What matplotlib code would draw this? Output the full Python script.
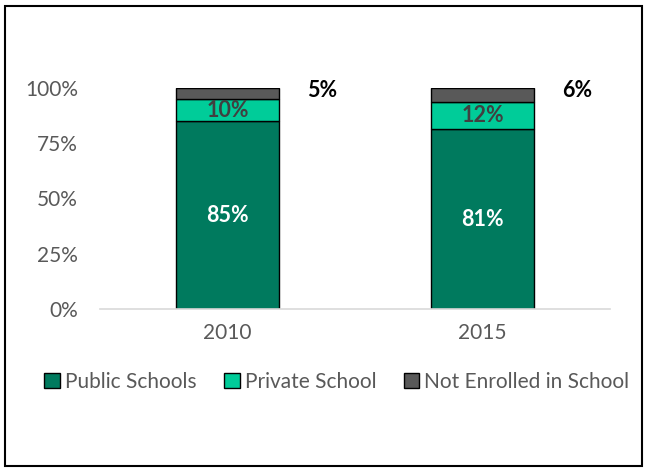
import matplotlib
matplotlib.use("Agg")
import matplotlib.pyplot as plt
from matplotlib.patches import Rectangle

years = ["2010", "2015"]
public = [85.0, 81.4]
private = [10.0, 12.2]
not_enrolled = [5.0, 6.4]
series_names = ["Public Schools", "Private School", "Not Enrolled in School"]
colors = ["#007A5E", "#00CC99", "#595959"]
yticks = [0, 25, 50, 75, 100]
ytick_labels = ["0%", "25%", "50%", "75%", "100%"]

plt.rcParams['font.family'] = ['Lato', 'DejaVu Sans']

fig = plt.figure(figsize=(6.47, 4.72), dpi=100)
fig.patches.append(Rectangle((0.008, 0.012), 0.984, 0.976, transform=fig.transFigure,
                             fill=False, edgecolor="black", linewidth=1.5))
ax = fig.add_axes([100/647, 1-309/472, 510/647, 221/472])

x = range(len(years))
w = 0.405
b1 = ax.bar(x, public, w, color=colors[0], edgecolor="black", linewidth=1, label=series_names[0])
b2 = ax.bar(x, private, w, bottom=public, color=colors[1], edgecolor="black", linewidth=1, label=series_names[1])
bottom3 = [p + q for p, q in zip(public, private)]
b3 = ax.bar(x, not_enrolled, w, bottom=bottom3, color=colors[2], edgecolor="black", linewidth=1, label=series_names[2])

for i in x:
    ax.text(i, public[i] / 2, f"{public[i]:.0f}%", ha="center", va="center", color="white",
            fontsize=15.5, fontweight="bold")
    ax.text(i, public[i] + private[i] / 2, f"{private[i]:.0f}%", ha="center", va="center",
            color="#404040", fontsize=15.5, fontweight="bold")
    ax.text(i + 0.37, 99, f"{not_enrolled[i]:.0f}%", ha="center", va="center", color="black",
            fontsize=15.5, fontweight="bold")

ax.set_xlim(-0.5, 1.5)
ax.set_ylim(0, 100)
ax.set_yticks(yticks)
ax.set_yticklabels(ytick_labels)
ax.set_xticks(list(x))
ax.set_xticklabels(years)
ax.tick_params(axis="both", length=0, labelsize=15, colors="#595959")
ax.tick_params(axis="x", pad=10)
ax.tick_params(axis="y", pad=16)
for s in ["top", "right", "left"]:
    ax.spines[s].set_visible(False)
ax.spines["bottom"].set_color("#D9D9D9")
ax.spines["bottom"].set_linewidth(1.2)
ax.set_axisbelow(True)

leg = fig.legend(handles=[b1, b2, b3], labels=series_names, loc="center",
                 bbox_to_anchor=(337/647, 1-382/472), ncol=3, frameon=False,
                 fontsize=15, handlelength=0.75, handleheight=0.75, handletextpad=0.25,
                 columnspacing=1.3, borderaxespad=0)
for t in leg.get_texts():
    t.set_color("#595959")

fig.savefig("out.png", dpi=100)
